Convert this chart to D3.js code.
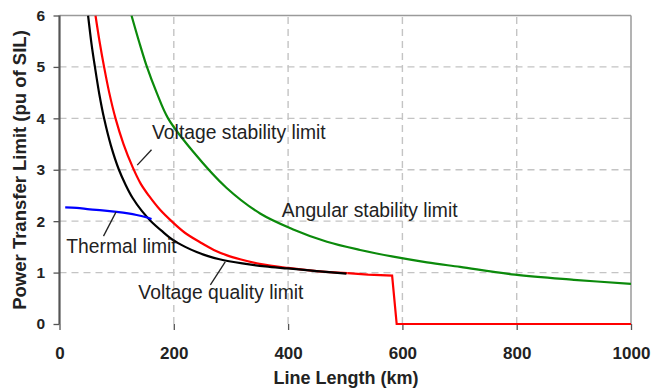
<!DOCTYPE html>
<html>
<head>
<meta charset="utf-8">
<script src="https://cdn.jsdelivr.net/npm/d3@7/dist/d3.min.js"></script>
<style>
  html, body { margin: 0; padding: 0; background: #fff; }
  svg { display: block; }
  text { font-family: "Liberation Sans", Arial, sans-serif; }
</style>
</head>
<body>
<script>
// ---- data (km, pu of SIL) ----
const xTicks = [0, 200, 400, 600, 800, 1000];
const yTicks = [0, 1, 2, 3, 4, 5, 6];

const thermalKm  = [10, 30, 53, 75, 100, 120, 135, 150, 161];
const thermalPu  = [2.27, 2.26, 2.23, 2.21, 2.18, 2.15, 2.12, 2.08, 2.04];

const vQualityKm = [50, 56, 62, 70, 78, 90, 104, 116, 128, 144, 160, 180, 199, 220, 240, 260, 280, 320, 360, 400, 450, 502];
const vQualityPu = [6.0, 5.45, 5.0, 4.45, 4.0, 3.47, 3.0, 2.7, 2.45, 2.2, 2.0, 1.8, 1.63, 1.5, 1.4, 1.32, 1.26, 1.18, 1.12, 1.08, 1.03, 0.98];

const vStabKm = [63, 70, 78, 87, 98, 112, 128, 142, 156, 176, 196, 220, 246, 270, 292, 316, 350, 400, 450, 504];
const vStabPu = [6.0, 5.5, 5.0, 4.5, 4.0, 3.5, 3.05, 2.73, 2.5, 2.22, 2.0, 1.77, 1.59, 1.44, 1.34, 1.26, 1.17, 1.09, 1.03, 0.99];
const vStabTailKm = [504, 540, 582, 590, 1000];
const vStabTailPu = [0.99, 0.96, 0.94, 0, 0];

const angKm = [126, 139, 153, 170, 190, 234, 292, 351, 409, 468, 526, 584, 643, 701, 797, 900, 1000];
const angPu = [6, 5.5, 5, 4.5, 4, 3.35, 2.65, 2.15, 1.84, 1.6, 1.44, 1.31, 1.2, 1.11, 0.96, 0.86, 0.78];

const labels = [
  { text: "Voltage stability limit", km: 162, pu: 3.6, lineFrom: [161, 3.39], lineTo: [136, 3.09] },
  { text: "Thermal limit", km: 12, pu: 1.38, lineFrom: [77, 1.71], lineTo: [99, 2.18] },
  { text: "Voltage quality limit", km: 138, pu: 0.48, lineFrom: [264, 0.76], lineTo: [290, 1.21] },
  { text: "Angular stability limit", km: 389, pu: 2.09, lineFrom: null, lineTo: null }
];

// ---- layout ----
const W = 652, H = 389;
const svg = d3.select("body").append("svg").attr("width", W).attr("height", H);

const x = d3.scaleLinear().domain([0, 1000]).range([59.5, 631]);
const y = d3.scaleLinear().domain([0, 6]).range([324, 15.5]);

svg.append("defs").append("clipPath").attr("id", "plot")
  .append("rect").attr("x", x(0)).attr("y", y(6)).attr("width", x(1000) - x(0) + 2).attr("height", y(0) - y(6) + 3);

// gridlines
const grid = svg.append("g");
grid.selectAll("line.h").data(yTicks.filter(d => d > 0 && d < 6)).join("line")
  .attr("x1", x(0)).attr("x2", x(1000)).attr("y1", d => y(d)).attr("y2", d => y(d))
  .attr("stroke", "#c4c4c4").attr("stroke-width", 1.4).attr("stroke-dasharray", "7,5");
grid.selectAll("line.v").data(xTicks.filter(d => d > 0 && d < 1000)).join("line")
  .attr("x1", d => x(d)).attr("x2", d => x(d)).attr("y1", y(0)).attr("y2", y(6))
  .attr("stroke", "#c4c4c4").attr("stroke-width", 1.4).attr("stroke-dasharray", "7,5");

// border (top/right)
svg.append("line").attr("x1", x(0)).attr("x2", x(1000)).attr("y1", y(6)).attr("y2", y(6))
  .attr("stroke", "#9a9a9a").attr("stroke-width", 1.5);
svg.append("line").attr("x1", x(1000)).attr("x2", x(1000)).attr("y1", y(6)).attr("y2", y(0))
  .attr("stroke", "#9a9a9a").attr("stroke-width", 1.5);

// axes
const xAxis = d3.axisBottom(x).tickValues(xTicks).tickSize(6).tickPadding(17).tickFormat(d3.format("d"));
const gx = svg.append("g").attr("transform", `translate(0,${y(0)})`).call(xAxis);
gx.select(".domain").remove();
gx.selectAll(".tick line").attr("stroke", "#555").attr("stroke-width", 1.3);
gx.selectAll("text").attr("font-size", 17).attr("font-weight", "bold").attr("fill", "#222")
  .attr("font-family", "Liberation Sans, Arial, sans-serif");

const yAxis = d3.axisLeft(y).tickValues(yTicks).tickSize(6).tickPadding(8.5).tickFormat(d3.format("d"));
const gy = svg.append("g").attr("transform", `translate(${x(0)},0)`).call(yAxis);
gy.select(".domain").remove();
gy.selectAll(".tick line").attr("stroke", "#555").attr("stroke-width", 1.3);
gy.selectAll("text").attr("font-size", 15.5).attr("font-weight", "bold").attr("fill", "#222")
  .attr("font-family", "Liberation Sans, Arial, sans-serif");

// series
const line = d3.line().x(d => x(d[0])).y(d => y(d[1])).curve(d3.curveCatmullRom.alpha(0.5));
const lineLin = d3.line().x(d => x(d[0])).y(d => y(d[1]));
const zip = (a, b) => a.map((v, i) => [v, b[i]]);

const plot = svg.append("g").attr("clip-path", "url(#plot)");

plot.append("path").attr("d", line(zip(angKm, angPu)))
  .attr("fill", "none").attr("stroke", "#0b8a0b").attr("stroke-width", 2.2);
plot.append("path").attr("d", line(zip(vStabKm, vStabPu)))
  .attr("fill", "none").attr("stroke", "#ff0000").attr("stroke-width", 2.2);
plot.append("path").attr("d", lineLin(zip(vStabTailKm, vStabTailPu)))
  .attr("fill", "none").attr("stroke", "#ff0000").attr("stroke-width", 2.2);
plot.append("path").attr("d", line(zip(vQualityKm, vQualityPu)))
  .attr("fill", "none").attr("stroke", "#000").attr("stroke-width", 2.2);
plot.append("path").attr("d", line(zip(thermalKm, thermalPu)))
  .attr("fill", "none").attr("stroke", "#0000ff").attr("stroke-width", 2.2);

// axis lines
svg.append("line").attr("x1", x(0)).attr("x2", x(0)).attr("y1", y(6)).attr("y2", y(0))
  .attr("stroke", "#555").attr("stroke-width", 2.2);

// annotations
labels.forEach(l => {
  if (l.lineFrom) {
    svg.append("line")
      .attr("x1", x(l.lineFrom[0])).attr("y1", y(l.lineFrom[1]))
      .attr("x2", x(l.lineTo[0])).attr("y2", y(l.lineTo[1]))
      .attr("stroke", "#222").attr("stroke-width", 1.3);
  }
  svg.append("text").attr("x", x(l.km)).attr("y", y(l.pu))
    .attr("font-size", 19.3).attr("fill", "#222").text(l.text);
});

// axis titles
svg.append("text").attr("x", 346).attr("y", 384).attr("text-anchor", "middle")
  .attr("font-size", 18).attr("font-weight", "bold").attr("fill", "#222")
  .text("Line Length (km)");
svg.append("text").attr("transform", "translate(25.5,170) rotate(-90)").attr("text-anchor", "middle")
  .attr("font-size", 18.5).attr("font-weight", "bold").attr("fill", "#222")
  .text("Power Transfer Limit (pu of SIL)");
</script>
</body>
</html>
